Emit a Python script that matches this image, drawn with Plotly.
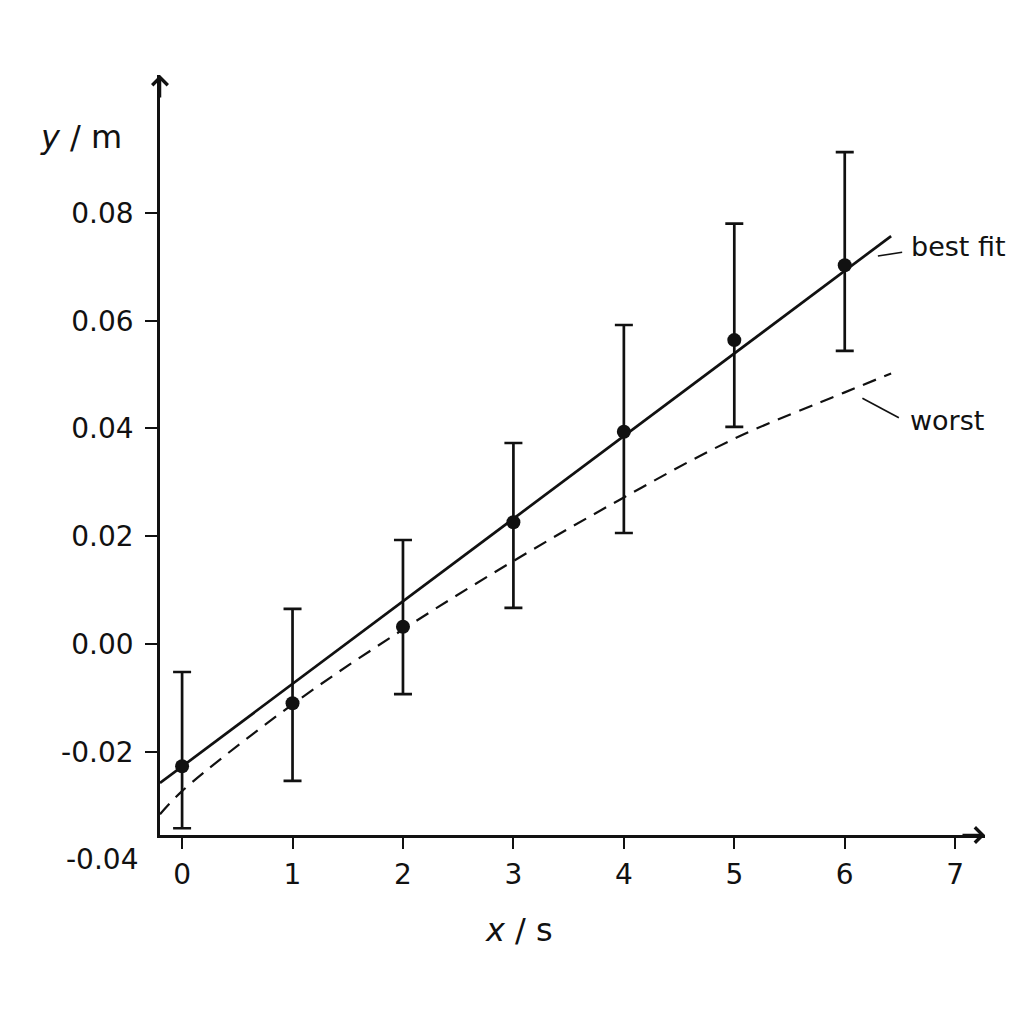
"""Hand-drawn style linear fit plot: y against x with error bars, best and worst fit lines."""

import plotly.graph_objects as go

# ---- data -------------------------------------------------------------
x_vals = [0, 1, 2, 3, 4, 5, 6]
y_vals = [-0.0227, -0.0110, 0.0032, 0.0226, 0.0394, 0.0564, 0.0703]
y_top = [-0.0052, 0.0065, 0.0193, 0.0373, 0.0592, 0.0780, 0.0913]
y_bottom = [-0.0342, -0.0254, -0.0093, 0.0067, 0.0206, 0.0403, 0.0544]

best_x = [-0.2, 6.42]
best_y = [-0.0258, 0.0757]

worst_x = [-0.2, 0, 1, 2, 3, 4, 5, 6, 6.42]
worst_y = [-0.0316, -0.0273, -0.0112, 0.0027, 0.0154, 0.0272, 0.0381, 0.0467, 0.0502]

x_ticks = [0, 1, 2, 3, 4, 5, 6, 7]
y_ticks = [-0.02, 0.00, 0.02, 0.04, 0.06, 0.08]
y_low_label = -0.04

X_RANGE = [-0.2, 7.27]
Y_RANGE = [-0.03545, 0.1056]

FONT = "DejaVu Sans"
INK = "#111111"
LW = 2.7

err_plus = [t - v for t, v in zip(y_top, y_vals)]
err_minus = [v - b for v, b in zip(y_vals, y_bottom)]

fig = go.Figure()

fig.add_scatter(
    x=worst_x, y=worst_y, mode="lines",
    line=dict(color=INK, width=2.2, dash="14px,9px", shape="spline"),
    hoverinfo="skip",
)
fig.add_scatter(
    x=best_x, y=best_y, mode="lines",
    line=dict(color=INK, width=LW),
    hoverinfo="skip",
)
fig.add_scatter(
    x=x_vals, y=y_vals, mode="markers",
    marker=dict(color=INK, size=14),
    error_y=dict(type="data", symmetric=False, array=err_plus,
                 arrayminus=err_minus, color=INK, thickness=LW, width=9),
)

tick_font = dict(family=FONT, size=28, color=INK)

fig.update_xaxes(
    range=X_RANGE, tickvals=x_ticks, ticktext=[str(v) for v in x_ticks],
    showline=True, linecolor=INK, linewidth=LW,
    ticks="outside", ticklen=11, tickwidth=2.4, tickcolor=INK,
    ticklabelstandoff=2,
    showgrid=False, zeroline=False,
    tickfont=tick_font,
)
fig.update_yaxes(
    range=Y_RANGE, tickvals=y_ticks, ticktext=[f"{v:.2f}" for v in y_ticks],
    showline=True, linecolor=INK, linewidth=LW,
    ticks="outside", ticklen=12, tickwidth=2.4, tickcolor=INK,
    ticklabelstandoff=6,
    showgrid=False, zeroline=False,
    tickfont=tick_font,
)

# axis arrowheads
fig.add_annotation(x=X_RANGE[1], y=Y_RANGE[0], ax=-24, ay=0, text="",
                   showarrow=True, arrowhead=4, arrowsize=1.2, arrowwidth=2.5,
                   arrowcolor=INK)
fig.add_annotation(x=X_RANGE[0], y=Y_RANGE[1], ax=0, ay=24, text="",
                   showarrow=True, arrowhead=4, arrowsize=1.2, arrowwidth=2.5,
                   arrowcolor=INK)

# the lowest y label sits below the x axis, outside the axis range
low_frac = (y_low_label - Y_RANGE[0]) / (Y_RANGE[1] - Y_RANGE[0])
fig.add_annotation(x=0, xref="paper", y=low_frac, yref="paper", xanchor="right",
                   yanchor="middle", xshift=-20, text=f"{y_low_label:.2f}",
                   showarrow=False, font=tick_font)

# axis titles
fig.add_annotation(x=0, xref="paper", y=1, yref="paper", xanchor="right",
                   xshift=-36, yshift=-41, text="<i>y</i> / m", showarrow=False,
                   font=dict(family=FONT, size=32, color=INK))
fig.add_annotation(x=3.05, y=0, yref="paper", yshift=-116, text="<i>x</i> / s",
                   showarrow=False, font=dict(family=FONT, size=32, color=INK))

# line labels with leader lines
fig.add_shape(type="line", x0=6.30, y0=0.0720, x1=6.52, y1=0.0727,
              line=dict(color=INK, width=1.6))
fig.add_annotation(x=6.58, y=0.0737, xanchor="left", text="best fit",
                   showarrow=False, font=dict(family=FONT, size=27, color=INK))
fig.add_shape(type="line", x0=6.16, y0=0.0456, x1=6.49, y1=0.0420,
              line=dict(color=INK, width=1.6))
fig.add_annotation(x=6.57, y=0.0414, xanchor="left", text="worst",
                   showarrow=False, font=dict(family=FONT, size=27, color=INK))

# page body adds an 8px offset, so the figure is 8px smaller
fig.update_layout(
    width=1016, height=1016,
    margin=dict(l=152, r=39, t=67, b=189),
    paper_bgcolor="white", plot_bgcolor="white",
    showlegend=False,
)

fig.write_html("out.html")
